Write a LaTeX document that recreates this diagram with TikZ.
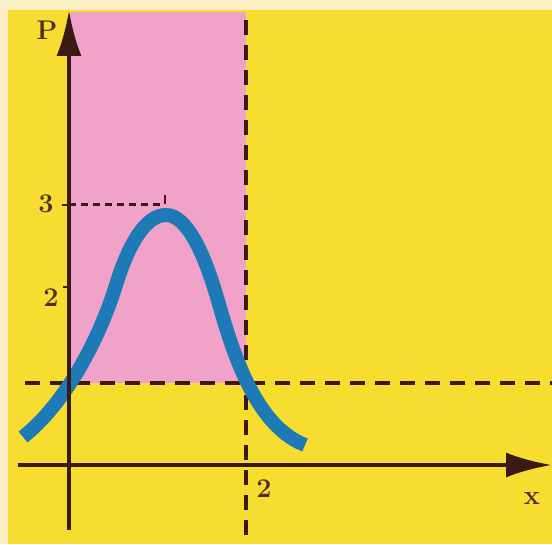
\documentclass[tikz,border=0pt]{standalone}
\usepackage{xcolor}
\usepackage{tikz}
\usetikzlibrary{arrows.meta}

\definecolor{paper}{RGB}{250,240,195}
\definecolor{bgyellow}{RGB}{247,221,48}
\definecolor{zonepink}{RGB}{240,162,200}
\definecolor{inkbrown}{RGB}{58,26,18}
\definecolor{curveblue}{RGB}{30,122,182}

\begin{document}
\begin{tikzpicture}[
    x=1pt, y=1pt,
    axis/.style={draw=inkbrown, line width=4.5pt, -{Latex[length=46pt, width=25pt]}},
    guide/.style={draw=inkbrown, line width=4.5pt, dash pattern=on 15pt off 10pt},
    dotguide/.style={draw=inkbrown, line width=3pt, dash pattern=on 7pt off 5pt},
    tick/.style={draw=inkbrown, line width=2.5pt},
    lbl/.style={text=inkbrown!90, font=\fontsize{27}{30}\selectfont\bfseries, inner sep=0pt},
    bell/.style={draw=curveblue, line width=14pt, line cap=butt}
]
\useasboundingbox (0,0) rectangle (552,544);
\fill[paper] (0,0) rectangle (552,544);
\fill[bgyellow] (8,0) rectangle (552,534);
\fill[zonepink] (70,161) rectangle (246,532);

% guides
\coordinate (hl) at (25,161);
\coordinate (hr) at (552,161);
\coordinate (vt) at (246,530);
\coordinate (vb) at (246,9);
\draw[guide] (hl) -- (hr);
\draw[guide] (vb) -- (vt);

% the bell curve
\draw[bell] (23,107) .. controls (65,140) and (99,204) .. (116,259)
    .. controls (128,298) and (145,329) .. (166,329)
    .. controls (187,329) and (204,290) .. (216,250)
    .. controls (228,210) and (250,120) .. (305,99);

% axes
\coordinate (ybot) at (69,14);
\coordinate (ytop) at (69,534);
\coordinate (xleft) at (18,79);
\coordinate (xright) at (552,79);
\draw[axis] (ybot) -- (ytop);
\draw[axis] (xleft) -- (xright);

% level 3 and peak
\coordinate (y3) at (69,339);
\coordinate (peak) at (162,339);
\draw[dotguide] (y3) -- (peak);
\draw[tick] (62,339) -- (y3);
\draw[tick] (165,340) -- (165,349);
\draw[tick] (63,257) -- (69,257);

% labels
\node[lbl] (lp) at (47,514) {P};
\node[lbl] (l3) at (46,340) {3};
\node[lbl] (l2y) at (51,246) {2};
\node[lbl] (l2x) at (264,55) {2};
\node[lbl] (lx) at (532,45) {x};
\end{tikzpicture}
\end{document}
